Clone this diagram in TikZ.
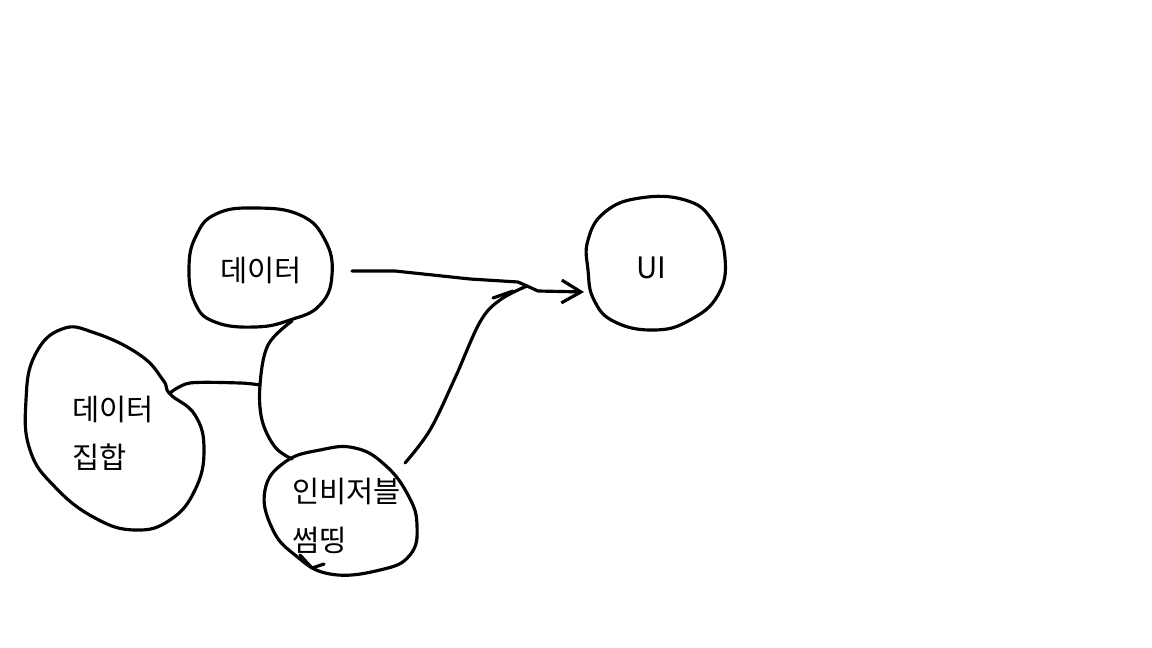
\documentclass[tikz,border=0pt]{standalone}
\usepackage{fontspec}
\setmainfont{Noto Sans CJK KR}
\usetikzlibrary{arrows.meta,positioning}

\begin{document}
\begin{tikzpicture}[
    x=0.02cm, y=-0.02cm,
    font=\fontsize{16.8}{19}\selectfont,
    pen/.style={line width=1.8pt, line cap=round, line join=round},
    blob/.style={pen, smooth cycle, tension=0.75},
    txt/.style={inner sep=0pt, anchor=west},
    arrow/.style={pen, -{Straight Barb[length=11pt, width=13pt, line width=1.8pt]}}
  ]
  \useasboundingbox[fill=white] (0,0) rectangle (1152,648);

  % blobs
  \draw[blob] plot coordinates {(189,268) (196,236) (216,214) (255,208) (300,215) (325,240) (332,275) (320,305) (290,320) (255,327) (215,322) (195,303)};
  \draw[blob] plot coordinates {(588,240) (605,212) (640,198) (685,200) (712,220) (725,258) (718,295) (690,320) (655,330) (615,322) (594,300) (588,270)};
  \draw[blob] plot coordinates {(26,400) (35,355) (62,329) (95,333) (140,355) (163,380) (170,394) (195,415) (204,450) (195,490) (170,520) (135,530) (95,518) (55,487) (30,450)};
  \draw[blob] plot coordinates {(265,490) (285,462) (320,450) (355,448) (385,465) (408,495) (417,525) (410,555) (380,570) (330,574) (295,555) (272,528)};
  \draw[pen] (300,555) -- (312,568) -- (324,564);

  % labels
  \node[txt] (data) at (220,270) {데이터};
  \node[txt] (ui) at (636,268) {UI};
  \node[txt] (set1) at (72,409) {데이터};
  \node[txt, below=0.96cm of set1.west, anchor=west] (set2) {집합};
  \node[txt] (inv1) at (292,491) {인비저블};
  \node[txt, below=0.98cm of inv1.west, anchor=west] (inv2) {썸띵};

  \coordinate (data-e) at (352,271);
  \coordinate (data-s) at (292,321);
  \coordinate (ui-w) at (584,292);
  \coordinate (set-e) at (170,393);
  \coordinate (inv-n) at (292,459);
  \coordinate (inv-ne) at (405,463);
  \coordinate (trunk) at (260,385);
  \coordinate (merge) at (527,286);

  % connectors
  \draw[arrow] (data-e) -- (395,271) -- (470,279) -- (518,282) -- (merge) -- (538,291) -- (ui-w);
  \draw[pen] plot[smooth, tension=0.6] coordinates {(inv-ne) (430,430) (455,378) (480,322) (500,300) (merge)};
  \draw[pen] (493,298) -- (513,291);
  \draw[pen] plot[smooth, tension=0.6] coordinates {(data-s) (268,345) (260,385) (262,420) (275,447) (inv-n)};
  \draw[pen] plot[smooth, tension=0.5] coordinates {(trunk) (240,383) (190,383) (set-e)};
\end{tikzpicture}
\end{document}
